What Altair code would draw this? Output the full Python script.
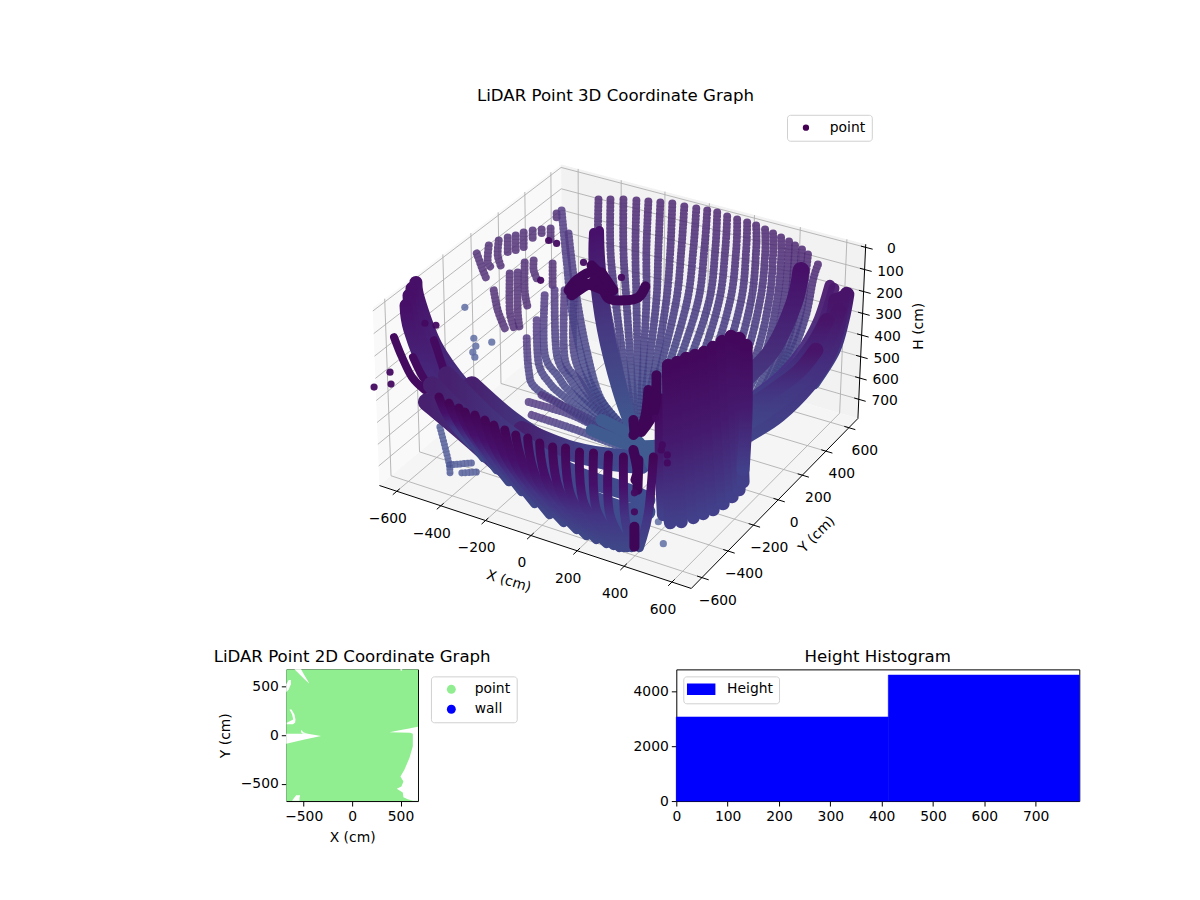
import numpy as np
import pandas as pd
import altair as alt

FONT = 'DejaVu Sans'
TICK_SIZE = 13.9

# 3D panel limits, ticks and where the box corners sit on the picture
X_LIM = [-680, 680]
Y_LIM = [-680, 680]
H_LIM = [-14, 791]
X_TICKS = [-600, -400, -200, 0, 200, 400, 600]
Y_TICKS = [-600, -400, -200, 0, 200, 400, 600]
H_TICKS = [0, 100, 200, 300, 400, 500, 600, 700]
BOX_CORNERS = [
    ((0, 0, 1), (378, 487)), ((1, 0, 1), (690, 588)), ((1, 1, 1), (857, 420)), ((0, 1, 1), (560, 330)),
    ((0, 0, 0), (370, 307)), ((0, 1, 0), (560, 165)), ((1, 1, 0), (865, 243)),
]

BACK_FAN = [
    [(597, 199), (597, 250), (604, 300), (616, 360), (630, 425)],
    [(609, 199), (609, 250), (614, 300), (622, 360), (632, 425)],
    [(622, 199), (622, 250), (625, 300), (629, 360), (634, 428)],
    [(635, 200), (634, 250), (635, 300), (636, 360), (636, 428)],
    [(647, 201), (645, 250), (645, 300), (642, 360), (638, 428)],
    [(659, 202), (657, 250), (655, 300), (648, 360), (640, 425)],
    [(671, 203), (669, 250), (665, 300), (655, 360), (642, 420)],
    [(683, 206), (680, 250), (675, 300), (661, 360), (645, 415)],
    [(695, 208), (692, 250), (686, 300), (669, 360), (650, 410)],
    [(706, 210), (703, 250), (697, 300), (678, 360), (656, 410)],
    [(716, 212), (714, 250), (708, 300), (688, 360), (662, 410)],
    [(726, 216), (724, 250), (718, 300), (699, 360), (668, 415)],
    [(736, 219), (735, 250), (729, 300), (710, 360), (676, 415)],
    [(746, 222), (745, 250), (740, 300), (722, 360), (690, 415)],
    [(755, 225), (755, 250), (750, 300), (733, 360), (700, 420)],
    [(764, 229), (764, 255), (759, 300), (743, 360), (710, 420)],
    [(772, 233), (772, 255), (768, 300), (753, 360), (720, 420)],
    [(780, 237), (780, 260), (776, 300), (762, 360), (730, 420)],
    [(788, 241), (787, 262), (783, 300), (770, 360), (740, 420)],
    [(794, 245), (793, 265), (789, 305), (776, 360), (745, 420)],
    [(801, 249), (799, 268), (795, 305), (782, 355), (755, 410)],
    [(807, 254), (805, 272), (800, 310), (788, 350), (762, 395)],
    [(817, 264), (812, 280), (805, 315), (792, 350), (770, 385)],
]
MID_FAN = [
    [(525, 338), (527, 370), (533, 387), (560, 405), (600, 430)],
    [(535, 320), (537, 363), (548, 383), (563, 397), (605, 428)],
    [(543, 295), (543, 353), (557, 377), (570, 393), (610, 425)],
    [(553, 290), (555, 353), (567, 377), (585, 400), (620, 430)],
    [(563, 290), (563, 357), (577, 380), (595, 405), (622, 432)],
    [(573, 290), (572, 350), (585, 385), (605, 415), (625, 433)],
    [(560, 210), (565, 260), (572, 320), (590, 385), (625, 430)],
    [(567, 233), (574, 290), (585, 350), (600, 400), (628, 432)],
    [(527, 402), (570, 415), (610, 435), (630, 442)],
    [(530, 415), (575, 430), (615, 445), (632, 448)],
    [(540, 395), (580, 415), (620, 435)],
]
CURTAIN = [
    [(475, 253), (480, 267), (484, 277)],
    [(487, 245), (486, 262), (491, 268)],
    [(497, 240), (496, 255), (500, 268)],
    [(506, 237), (506, 253)],
    [(514, 235), (514, 252)],
    [(522, 232), (522, 247)],
    [(531, 230), (531, 238)],
    [(540, 229), (540, 236)],
    [(549, 228), (549, 240)],
    [(555, 213), (555, 220)],
    [(492, 290), (496, 310), (503, 328)],
    [(508, 273), (508, 310), (512, 327)],
    [(516, 272), (516, 310), (518, 328)],
    [(523, 262), (523, 290), (526, 307)],
    [(532, 260), (532, 270), (536, 280)],
    [(551, 263), (551, 285)],
]
WALL_STRIP = [
    [(438, 427), (447, 463), (448, 475)],
    [(448, 465), (470, 463)],
    [(460, 473), (478, 472)],
]
LEFT_WING = [
    [(414, 282), (417, 300), (434, 345), (462, 385), (497, 420), (540, 443)],
    [(410, 288), (414, 312), (431, 352), (461, 392), (500, 430), (550, 455)],
    [(407, 295), (411, 320), (428, 360), (458, 400), (505, 438), (560, 465)],
    [(404, 305), (408, 330), (425, 372), (455, 412), (490, 445)],
]
LEFT_STRIPS = [
    [(392, 337), (400, 357), (410, 377), (423, 390)],
    [(411, 357), (423, 380), (437, 390)],
    [(432, 340), (437, 355), (443, 373)],
]
SWEEP = [
    [(470, 385), (510, 420), (550, 445), (600, 460), (640, 465)],
    [(520, 430), (570, 450), (620, 458), (650, 455)],
    [(445, 375), (490, 420), (530, 450), (575, 475), (620, 490), (645, 500)],
    [(440, 395), (480, 430), (520, 460), (570, 490), (620, 510), (645, 512)],
    [(430, 385), (470, 425), (510, 460), (550, 490), (600, 515), (640, 525)],
    [(435, 410), (470, 440), (510, 475), (555, 505), (600, 530), (635, 535)],
    [(425, 402), (460, 430), (492, 454), (522, 483), (565, 513), (597, 533), (630, 540)],
]
FUNNEL = [
    [(590, 430), (630, 445), (660, 445)],
    [(600, 420), (635, 440), (650, 465)],
]
THICK_ARCS = [
    [(592, 232), (592, 270), (600, 330), (615, 390), (630, 432)],
    [(598, 230), (600, 270), (608, 330), (622, 390), (634, 432)],
]
DARK_BAND = [[(800, 270), (793, 303), (773, 347), (750, 373), (738, 385)]]
WING_INNER = [
    [(829, 285), (817, 322), (800, 352), (780, 375), (755, 395)],
    [(833, 288), (822, 322), (805, 352), (785, 376), (760, 397)],
]
WING_OUTER = [
    [(846, 294), (841, 320), (832, 350), (812, 382)],
    [(841, 298), (836, 330), (826, 358), (807, 386), (778, 415), (752, 432), (728, 445)],
    [(835, 300), (829, 332), (818, 356), (800, 381), (772, 405), (748, 422), (725, 432)],
    [(838, 310), (825, 345), (805, 375), (780, 400), (750, 420), (730, 430)],
    [(826, 320), (812, 345), (790, 372), (765, 392), (740, 408)],
    [(815, 350), (797, 372), (770, 392), (750, 405), (725, 420)],
]
BLOCK = [
    [(660, 400), (660, 460), (662, 515)],
    [(667, 365), (668, 440), (669, 523)],
    [(676, 362), (678, 440), (680, 522)],
    [(685, 358), (688, 440), (692, 518)],
    [(694, 355), (698, 440), (702, 514)],
    [(703, 352), (707, 440), (712, 510)],
    [(712, 347), (717, 430), (722, 504)],
    [(721, 341), (726, 420), (731, 497)],
    [(730, 336), (734, 420), (738, 490)],
    [(738, 338), (740, 420), (742, 482)],
    [(745, 345), (745, 410), (742, 470)],
]
FRONT_FAN = [
    [(437, 397), (448, 420), (470, 445)],
    [(447, 403), (458, 425), (482, 458)],
    [(457, 408), (468, 432), (495, 470)],
    [(463, 412), (476, 440), (507, 482)],
    [(473, 415), (487, 447), (520, 492)],
    [(483, 420), (497, 455), (533, 504)],
    [(492, 425), (507, 462), (548, 515)],
    [(503, 430), (517, 470), (562, 523)],
    [(514, 435), (527, 475), (575, 530)],
    [(526, 438), (537, 482), (585, 536)],
    [(538, 443), (548, 487), (595, 540)],
    [(551, 447), (560, 495), (605, 544)],
    [(564, 448), (571, 500), (612, 546)],
    [(578, 452), (583, 505), (618, 548)],
    [(592, 453), (595, 510), (622, 548)],
    [(607, 455), (608, 513), (626, 548)],
    [(622, 457), (623, 513), (630, 548)],
    [(652, 457), (647, 513), (638, 548)],
]
DARK_LINES = [
    [(567, 290), (575, 280), (590, 272), (600, 285), (607, 298), (623, 300), (637, 297), (644, 286)],
    [(575, 280), (590, 285), (607, 292)],
    [(570, 295), (585, 285), (600, 278)],
    [(590, 265), (605, 280)],
    [(600, 272), (612, 290)],
    [(655, 375), (653, 410), (640, 432)],
    [(647, 390), (643, 420), (632, 435)],
    [(632, 420), (633, 432)],
    [(632, 450), (636, 470), (634, 480)],
    [(637, 460), (636, 490)],
    [(633, 527), (633, 547)],
]
DOTS_PALE = [(463, 307), (472, 338), (474, 346), (471, 352), (473, 357), (490, 342), (662, 544), (657, 522), (645, 503)]
DOTS_DARK = [(372, 387), (389, 384), (388, 372), (423, 323), (434, 325), (582, 262), (620, 277), (654, 418),
             (661, 445), (660, 450), (666, 455), (666, 463), (633, 493), (633, 512), (555, 243), (547, 240), (539, 280)]

# 2D panel: white gaps as rows of (Y, X from, X to), everything else is covered by points
XY_LIM = [-680, 680]
GAP_RIGHT = [(87, 678, 680), (66, 575, 680), (52, 489, 680), (31, 386, 680), (25, 600, 680), (14, 627, 680), (7, 627, 680),
             (-114, 627, 680), (-235, 592, 680), (-356, 540, 680), (-426, 499, 680), (-478, 530, 680), (-529, 509, 680),
             (-554, 461, 680), (-592, 523, 680), (-640, 530, 680), (-661, 575, 680), (-678, 627, 680)]
GAP_WEDGE = [(14, -680, -458), (-7, -680, -320), (-45, -680, -492), (-87, -680, -680)]
GAP_BUMP = [(52, -527, -520), (31, -527, -505), (14, -510, -458)]
GAP_CRESCENT = [(266, -647, -626), (215, -620, -596), (163, -609, -585), (128, -675, -589), (114, -675, -613)]
GAP_NOTCH = [(571, -654, -633), (526, -680, -633), (474, -680, -654), (450, -680, -675)]
GAP_SLASH = [(682, -596, -527), (630, -544, -499), (578, -492, -468), (536, -447, -444)]
GAP_FOOT = [(-619, -578, -537), (-651, -602, -544), (-678, -620, -544)]
GAP_TOP = [(682, 495, 520), (665, 505, 512)]
GAPS = [GAP_RIGHT, GAP_WEDGE, GAP_BUMP, GAP_CRESCENT, GAP_NOTCH, GAP_SLASH, GAP_FOOT, GAP_TOP]
SERIES_2D = ['point', 'wall']

# histogram
HIST_EDGES = [0, 413, 785]
HIST_COUNTS = [3055, 4580]


def fit_camera(corners):
    rows = []
    for (bx, by, bz), (u, v) in corners:
        u, v = u / 1000, v / 1000
        rows.append([bx, by, bz, 1, 0, 0, 0, 0, -u * bx, -u * by, -u * bz, -u])
        rows.append([0, 0, 0, 0, bx, by, bz, 1, -v * bx, -v * by, -v * bz, -v])
    return np.linalg.svd(np.array(rows))[2][-1].reshape(3, 4)


CAMERA = fit_camera(BOX_CORNERS)


def project(x, y, h):
    box = np.array([(x - X_LIM[0]) / (X_LIM[1] - X_LIM[0]), (y - Y_LIM[0]) / (Y_LIM[1] - Y_LIM[0]),
                    (h - H_LIM[0]) / (H_LIM[1] - H_LIM[0]), 1.0])
    p = CAMERA @ box
    return p[0] / p[2] * 1000, p[1] / p[2] * 1000


def segments(pairs):
    rows = []
    for a, b in pairs:
        pa, pb = project(*a), project(*b)
        rows.append({'px': pa[0], 'py': pa[1], 'px2': pb[0], 'py2': pb[1]})
    return pd.DataFrame(rows)


PX = alt.X('px:Q', axis=None, scale=alt.Scale(domain=[8, 1192], nice=False, zero=False))
PY = alt.Y('py:Q', axis=None, scale=alt.Scale(domain=[640, 8], nice=False, zero=False))


def grad(stops, horizontal=False):
    n = len(stops) - 1
    return alt.LinearGradient(gradient='linear', x1=0, y1=0, x2=1 if horizontal else 0, y2=0 if horizontal else 1,
                              stops=[alt.GradientStop(color=c, offset=i / n) for i, c in enumerate(stops)])


def arc_layer(arcs, width, stroke, opacity=1.0, dash=None, cap='round'):
    rows = [{'arc': a, 'i': i, 'px': p[0], 'py': p[1]} for a, arc in enumerate(arcs) for i, p in enumerate(arc)]
    opts = dict(strokeWidth=width, strokeCap=cap, strokeJoin='round', interpolate='cardinal', stroke=stroke, opacity=opacity)
    if dash:
        opts['strokeDash'] = dash
    return alt.Chart(pd.DataFrame(rows)).mark_line(**opts).encode(x=PX, y=PY, detail='arc:N', order='i:Q')


def beaded(arcs, width, stroke, opacity, edge='#2f1b60'):
    # rows of overlapping rings: round dashes for the outline, thin bars for the ring edges
    return [arc_layer(arcs, width, stroke, opacity, dash=[0.01, 3.6]),
            arc_layer(arcs, width - 1, edge, 0.16, dash=[0.9, 2.7], cap='butt')]


def dot_layer(dots, color, opacity):
    df = pd.DataFrame(dots, columns=['px', 'py'])
    return alt.Chart(df).mark_circle(size=52, color=color, opacity=opacity).encode(x=PX, y=PY)


def pane(corners, fill):
    verts = [project(*c) for c in corners]
    rows = []
    for vx in sorted(v[0] for v in verts):
        hits = []
        for (ax, ay), (bx, by) in zip(verts, verts[1:] + verts[:1]):
            if min(ax, bx) <= vx <= max(ax, bx) and ax != bx:
                hits.append(ay + (by - ay) * (vx - ax) / (bx - ax))
        rows.append({'px': vx, 'py': min(hits), 'py2': max(hits)})
    return alt.Chart(pd.DataFrame(rows)).mark_area(color=fill).encode(x=PX, y=PY, y2='py2:Q')


def rule_layer(pairs, color, width):
    return alt.Chart(segments(pairs)).mark_rule(color=color, strokeWidth=width).encode(x=PX, y=PY, x2='px2:Q', y2='py2:Q')


x0, x1 = X_LIM
y0, y1 = Y_LIM
h0, h1 = H_LIM

panes = [
    pane([(x0, y0, h0), (x0, y1, h0), (x0, y1, h1), (x0, y0, h1)], '#f9f9f9'),
    pane([(x0, y1, h0), (x1, y1, h0), (x1, y1, h1), (x0, y1, h1)], '#f2f2f2'),
    pane([(x0, y0, h1), (x0, y1, h1), (x1, y1, h1), (x1, y0, h1)], '#f5f5f5'),
]
grid_pairs = []
for t in X_TICKS:
    grid_pairs += [((t, y1, h0), (t, y1, h1)), ((t, y0, h1), (t, y1, h1))]
for t in Y_TICKS:
    grid_pairs += [((x0, t, h0), (x0, t, h1)), ((x0, t, h1), (x1, t, h1))]
for t in H_TICKS:
    grid_pairs += [((x0, y0, t), (x0, y1, t)), ((x0, y1, t), (x1, y1, t))]
grid = rule_layer(grid_pairs, '#b0b0b0', 0.9)
axis_lines = rule_layer([((x0, y0, h1), (x1, y0, h1)), ((x1, y0, h1), (x1, y1, h1)), ((x1, y1, h0), (x1, y1, h1))], 'black', 1)
tick_pairs = [((t, y0 + 20, h1), (t, y0 - 28, h1)) for t in X_TICKS]
tick_pairs += [((x1 - 20, t, h1), (x1 + 28, t, h1)) for t in Y_TICKS]
tick_pairs += [((x1 - 20, y1, t), (x1 + 30, y1, t)) for t in H_TICKS]
tick_marks = rule_layer(tick_pairs, 'black', 1)


def tick_text(ticks, where, dx, dy):
    rows = []
    for t in ticks:
        px, py = project(*where(t))
        rows.append({'px': px, 'py': py, 'label': str(t).replace('-', '\u2212')})
    return alt.Chart(pd.DataFrame(rows)).mark_text(font=FONT, fontSize=TICK_SIZE, color='black', dx=dx, dy=dy).encode(
        x=PX, y=PY, text='label:N')


tick_labels = [
    tick_text(X_TICKS, lambda t: (t, y0, h1), -9, 28),
    tick_text(Y_TICKS, lambda t: (x1, t, h1), 16, 23),
    tick_text(H_TICKS, lambda t: (x1, y1, t), 26, 2),
]

text_df = pd.DataFrame({
    'px': [614, 507, 816, 918],
    'py': [95, 582, 535, 326],
    'label': ['LiDAR Point 3D Coordinate Graph', 'X (cm)', 'Y (cm)', 'H (cm)'],
    'angle': [0, 17, 315, 270],
    'size': [16.67, TICK_SIZE, TICK_SIZE, TICK_SIZE],
})
titles_3d = alt.Chart(text_df).mark_text(font=FONT, color='black', baseline='middle').encode(
    x=PX, y=PY, text='label:N', angle=alt.Angle('angle:Q', scale=None), size=alt.Size('size:Q', scale=None, legend=None))

legend_3d = alt.Chart(pd.DataFrame({'series': ['point'], 'px': [806], 'py': [127]})).mark_circle(opacity=0).encode(
    x=PX, y=PY,
    color=alt.Color('series:N', scale=alt.Scale(domain=['point'], range=['#440154']),
                    legend=alt.Legend(title=None, orient='none', legendX=778, legendY=106, fillColor='white',
                                      strokeColor='#d0d0d0', cornerRadius=3, padding=6, labelFont=FONT,
                                      labelFontSize=TICK_SIZE, labelColor='black', symbolOpacity=1, symbolSize=40,
                                      symbolType='circle', symbolOffset=6, labelOffset=17)))

layers = panes + [grid]
layers += beaded(CURTAIN, 8, '#553479', 0.85)
layers += beaded(MID_FAN, 8, grad(['#573f86', '#4c478a', '#44508e']), 0.85)
layers += beaded(BACK_FAN, 8, grad(['#553078', '#4c3f85', '#465590']), 0.88)
layers += [dot_layer(DOTS_PALE, '#5f6da3', 0.85)]
layers += [arc_layer(THICK_ARCS, 9, grad(['#47106a', '#463a82', '#3f5a90'])),
           arc_layer(DARK_BAND, 17, grad(['#470f68', '#463a82'])),
           arc_layer(WING_INNER, 11, grad(['#4b1a6f', '#46378a']), 0.95),
           arc_layer(WING_OUTER, 15, grad(['#481469', '#44307f', '#41468a']))]
layers += beaded(WALL_STRIP, 7, '#545f9a', 0.85)
layers += [arc_layer(LEFT_WING, 13, grad(['#470f68', '#46287a', '#434a8a'])),
           arc_layer(LEFT_STRIPS, 8, '#440a60'),
           arc_layer(SWEEP, 18, grad(['#47206f', '#42438a', '#3e4f8f'], horizontal=True)),
           arc_layer(FUNNEL, 12, '#3f5b90'),
           arc_layer(BLOCK, 13, grad(['#43075c', '#451a6e', '#42408a'])),
           arc_layer(FRONT_FAN, 9, grad(['#430657', '#46106a', '#433484', '#3f4788'])),
           arc_layer(DARK_LINES, 10, '#3f0658'),
           dot_layer(DOTS_DARK, '#440a60', 0.95)]
layers += [axis_lines, tick_marks] + tick_labels + [titles_3d, legend_3d]

panel_3d = alt.layer(*layers).properties(width=1184, height=632)

# 2D coordinate panel
XY_X = alt.X('x:Q', title='X (cm)', scale=alt.Scale(domain=XY_LIM, nice=False, zero=False),
             axis=alt.Axis(values=[-500, 0, 500], titlePadding=8, grid=False, format='d'))
XY_Y = alt.Y('y:Q', title='Y (cm)', scale=alt.Scale(domain=XY_LIM, nice=False, zero=False),
             axis=alt.Axis(values=[-500, 0, 500], titlePadding=8, grid=False, format='d'))

covered = alt.Chart(pd.DataFrame({'x': [XY_LIM[0]], 'x2': [XY_LIM[1]], 'y': [XY_LIM[0]], 'y2': [XY_LIM[1]]})).mark_rect(
    color='#90ee90').encode(x=XY_X, x2='x2:Q', y=XY_Y, y2='y2:Q')
gap_rows = [{'gap': g, 'y': r[0], 'x': r[1], 'x2': r[2]} for g, rows in enumerate(GAPS) for r in rows]
gaps = alt.Chart(pd.DataFrame(gap_rows)).mark_area(color='white', orient='horizontal').encode(
    x=XY_X, x2='x2:Q', y=XY_Y, detail='gap:N')
legend_2d = alt.Chart(pd.DataFrame({'series': SERIES_2D, 'x': [0, 0], 'y': [0, 0]})).mark_circle(opacity=0).encode(
    x=XY_X, y=XY_Y,
    color=alt.Color('series:N', scale=alt.Scale(domain=SERIES_2D, range=['#90ee90', '#0000ff']),
                    legend=alt.Legend(title=None, orient='none', legendX=145, legendY=7, fillColor='white',
                                      strokeColor='#d0d0d0', cornerRadius=3, padding=6, labelFont=FONT,
                                      labelFontSize=TICK_SIZE, labelColor='black', symbolOpacity=1, symbolSize=80,
                                      symbolType='circle', symbolOffset=7.5, labelOffset=16.5, rowPadding=5)))
panel_2d = alt.layer(covered, gaps, legend_2d).properties(
    width=132, height=132, view=alt.ViewBackground(stroke='black'),
    title=alt.TitleParams('LiDAR Point 2D Coordinate Graph', font=FONT, fontSize=16.67, fontWeight='normal', color='black', offset=4))

# height histogram
hist_df = pd.DataFrame({'start': HIST_EDGES[:-1], 'end': HIST_EDGES[1:], 'count': HIST_COUNTS, 'base': [0, 0],
                        'series': ['Height', 'Height']})
panel_hist = alt.Chart(hist_df).mark_rect(stroke='#0000ff', strokeWidth=0.6).encode(
    x=alt.X('start:Q', title=None, scale=alt.Scale(domain=[0, 785], nice=False),
            axis=alt.Axis(values=[0, 100, 200, 300, 400, 500, 600, 700], grid=False, format='d')),
    x2='end:Q',
    y=alt.Y('count:Q', title=None, scale=alt.Scale(domain=[0, 4788], nice=False),
            axis=alt.Axis(values=[0, 2000, 4000], grid=False, format='d')),
    y2='base:Q',
    color=alt.Color('series:N', scale=alt.Scale(domain=['Height'], range=['#0000ff']),
                    legend=alt.Legend(title=None, orient='none', legendX=7, legendY=7, fillColor='white',
                                      strokeColor='#d0d0d0', cornerRadius=3, padding=6, labelFont=FONT,
                                      labelFontSize=TICK_SIZE, labelColor='black', symbolOpacity=1, symbolSize=100,
                                      symbolType='M-2.7,-1H2.7V1H-2.7Z', symbolOffset=5, labelOffset=19)),
).properties(
    width=404, height=132, view=alt.ViewBackground(stroke='black'),
    title=alt.TitleParams('Height Histogram', font=FONT, fontSize=16.67, fontWeight='normal', color='black', offset=4))

spacer = alt.Chart(pd.DataFrame({'a': [0]})).mark_point(opacity=0).encode(x=alt.value(0)).properties(width=17, height=132)

row = alt.hconcat(spacer, panel_2d, panel_hist, spacing=259, bounds='flush').resolve_scale(color='independent')
chart = alt.vconcat(panel_3d, row, spacing=30, bounds='flush').resolve_scale(color='independent').properties(
    padding=0).configure_view(stroke=None).configure_axis(
    labelFont=FONT, titleFont=FONT, labelFontSize=TICK_SIZE, titleFontSize=TICK_SIZE, titleFontWeight='normal',
    labelColor='black', titleColor='black', tickColor='black', tickSize=5, domain=False, labelPadding=3, labelFlush=False)

chart.save("out.html", embed_options={"renderer": "svg", "actions": False})
